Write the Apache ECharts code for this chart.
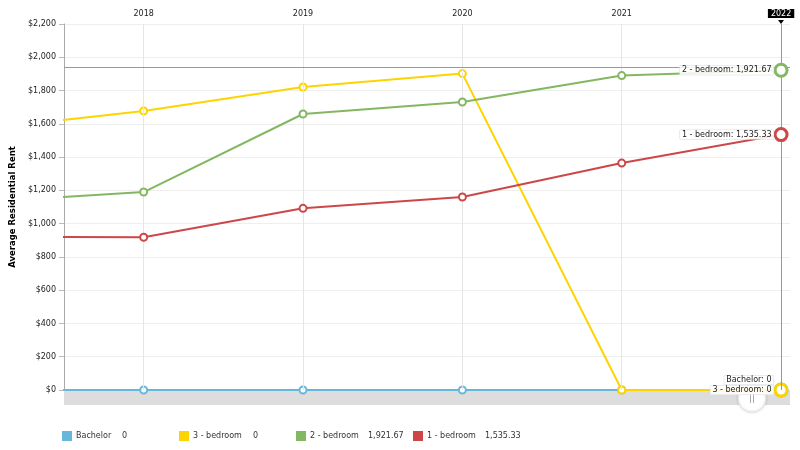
<!DOCTYPE html>
<html>
<head>
<meta charset="utf-8">
<script src="https://cdn.jsdelivr.net/npm/echarts@6/dist/echarts.min.js"></script>
<style>
html,body{margin:0;padding:0;background:#fff;}
#c{width:800px;height:450px;}
</style>
</head>
<body>
<div id="c"></div>
<script>
// ---- data ----
const years = [2017, 2018, 2019, 2020, 2021, 2022];
const yearTicks = [2018, 2019, 2020, 2021, 2022];
const seriesNames = ['Bachelor', '3 - bedroom', '2 - bedroom', '1 - bedroom'];
const bachelor = [0, 0, 0, 0, 0, 0];
const bed3 = [1569, 1677, 1821, 1902, 0, 0];
const bed2 = [1130, 1190, 1659, 1731, 1890, 1921.67];
const bed1 = [920, 918, 1092, 1160, 1364, 1535.33];
const yTicksMax = 2200;
const cursorYear = 2022;
const cursorValue = 1943;

const colors = ['#67b7dc', '#fdd400', '#84b761', '#cc4748'];
const values = [bachelor, bed3, bed2, bed1];
const FONT = 'DejaVu Sans';

function fmt(v) {
  return v.toLocaleString('en-US', {maximumFractionDigits: 2, minimumFractionDigits: v % 1 ? 2 : 0});
}

const labelOffsets = [[0, -10], [0, 0], [0, 0], [0, 0]];

const series = seriesNames.map((name, i) => ({
  name: name,
  type: 'line',
  z: 3 + i,
  symbol: 'circle',
  symbolSize: 7,
  lineStyle: {color: colors[i], width: 2},
  itemStyle: {color: '#fff', borderColor: colors[i], borderWidth: 2},
  emphasis: {disabled: true},
  data: years.map((y, k) => {
    const v = values[i][k];
    if (y === cursorYear) {
      return {
        value: [y, v],
        symbolSize: 12,
        itemStyle: {color: '#fff', borderColor: colors[i], borderWidth: 3},
        label: {
          show: true,
          position: 'left',
          distance: 0,
          offset: labelOffsets[i],
          formatter: name + ': ' + fmt(v),
          fontFamily: FONT,
          fontSize: 8,
          color: '#222',
          backgroundColor: 'rgba(255,255,255,0.85)',
          borderColor: '#ddd',
          borderWidth: 0.5,
          padding: [1, 2, 0, 2]
        }
      };
    }
    return [y, v];
  })
}));

// helper series for cursor & vertical grid lines
series.unshift({
  name: '__grid',
  type: 'line',
  data: [],
  z: 1,
  silent: true,
  markLine: {
    silent: true,
    symbol: 'none',
    label: {show: false},
    animation: false,
    data: yearTicks.filter(y => y !== cursorYear).map(y => ({xAxis: y, lineStyle: {color: '#e6e6e6', width: 1, type: 'solid'}}))
      .concat([
        {xAxis: cursorYear, lineStyle: {color: '#999', width: 1, type: 'solid'}},
        {yAxis: cursorValue, lineStyle: {color: '#999', width: 1, type: 'solid'}}
      ])
  }
});

const legendLefts = [62, 179, 296, 413];
const nameWidths = [46, 60, 58, 58];
const legends = seriesNames.map((name, i) => ({
  data: [{name: name, itemStyle: {color: colors[i]}}],
  left: legendLefts[i],
  top: 431,
  padding: 0,
  icon: 'rect',
  itemWidth: 8,
  itemHeight: 8,
  selectedMode: false,
  formatter: n => '{n|' + n + '}{v|' + fmt(values[i][values[i].length - 1]) + '}',
  textStyle: {
    fontFamily: FONT, fontSize: 8, color: '#333',
    rich: {
      n: {width: nameWidths[i], fontFamily: FONT, fontSize: 8, color: '#333'},
      v: {fontFamily: FONT, fontSize: 8, color: '#333'}
    }
  }
}));

const chart = echarts.init(document.getElementById('c'), null, {renderer: 'canvas'});
const option = {
  animation: false,
  backgroundColor: '#fff',
  textStyle: {fontFamily: FONT},
  grid: {left: 64, right: 10, top: 24, bottom: 60},
  legend: legends,
  xAxis: {
    type: 'value',
    position: 'top',
    min: 2017.5,
    max: 2022.056,
    axisLine: {show: false},
    axisTick: {show: false, customValues: yearTicks},
    splitLine: {show: false},
    axisLabel: {
      customValues: yearTicks,
      margin: 6,
      fontFamily: FONT,
      fontSize: 8,
      color: '#222',
      formatter: v => v === cursorYear ? '{t|' + v + '}' : String(v),
      rich: {
        t: {backgroundColor: '#000', color: '#fff', fontFamily: FONT, fontSize: 8, padding: [1, 3, 0, 3]}
      }
    }
  },
  yAxis: {
    type: 'value',
    min: 0,
    max: yTicksMax,
    interval: 200,
    name: 'Average Residential Rent',
    nameLocation: 'middle',
    nameGap: 44,
    nameTextStyle: {fontFamily: FONT, fontSize: 8.5, fontWeight: 'bold', color: '#000'},
    axisLine: {show: true, lineStyle: {color: '#aaa'}},
    axisTick: {show: true, length: 5, lineStyle: {color: '#bbb'}},
    splitLine: {lineStyle: {color: '#eeeeee'}},
    axisLabel: {
      fontFamily: FONT, fontSize: 8, color: '#222', margin: 8,
      formatter: v => '$' + v.toLocaleString('en-US')
    }
  },
  graphic: [
    {type: 'rect', z: 0, shape: {x: 64, y: 391, width: 726, height: 14}, style: {fill: '#dddddd'}},
    {type: 'circle', z: 0, shape: {cx: 752, cy: 398, r: 14}, style: {fill: '#fff', stroke: '#e4e4e4', lineWidth: 1, shadowBlur: 3, shadowColor: 'rgba(0,0,0,0.15)'}},
    {type: 'line', z: 0, shape: {x1: 750.5, y1: 393, x2: 750.5, y2: 403}, style: {stroke: '#aaa', lineWidth: 1}},
    {type: 'line', z: 0, shape: {x1: 753.5, y1: 393, x2: 753.5, y2: 403}, style: {stroke: '#aaa', lineWidth: 1}},
    {type: 'polygon', z: 10, shape: {points: [[778, 20], [784, 20], [781, 24]]}, style: {fill: '#000'}}
  ],
  series: series
};
chart.setOption(option);
</script>
</body>
</html>
